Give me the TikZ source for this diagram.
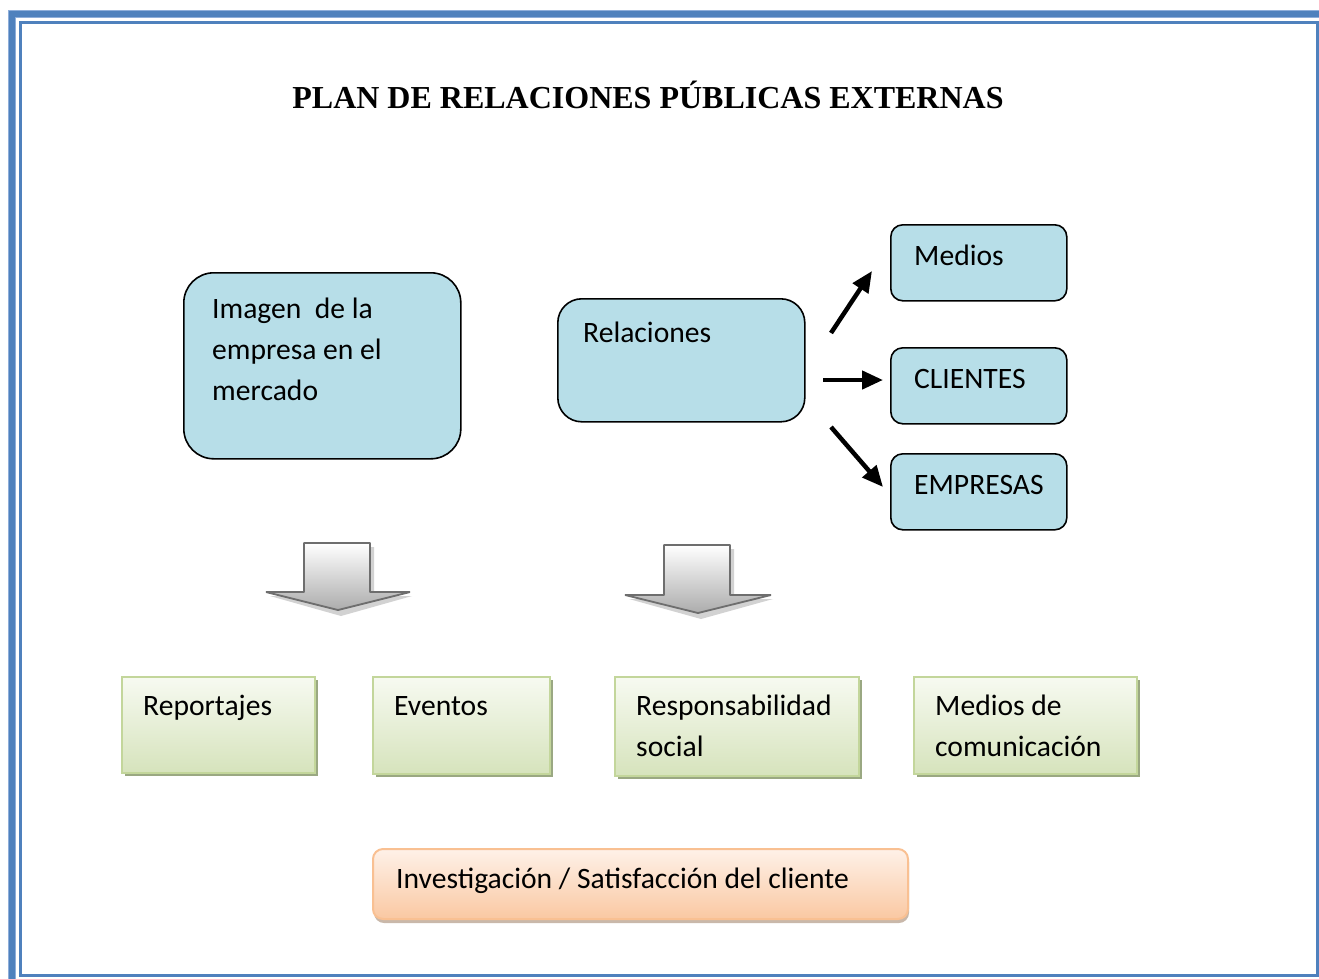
\documentclass[tikz,border=0pt]{standalone}
\usepackage{fontspec}
\setmainfont{Carlito}
\newfontfamily\titlefont{Liberation Serif}
\usetikzlibrary{arrows.meta}
\definecolor{frameblue}{HTML}{4F81BD}
\definecolor{framelight}{HTML}{8EAEDA}
\definecolor{boxblue}{HTML}{B7DEE8}
\definecolor{greenborder}{HTML}{C3D69B}
\definecolor{greentop}{HTML}{F7FAF1}
\definecolor{greenbot}{HTML}{D6E3BC}
\definecolor{greenshadow}{HTML}{9AA882}
\definecolor{orangeborder}{HTML}{F9C092}
\definecolor{orangetop}{HTML}{FEF1E8}
\definecolor{orangebot}{HTML}{FAC8A2}
\definecolor{orangeshadow}{HTML}{C9B8AA}
\definecolor{arrowline}{HTML}{6E6E6E}
\begin{document}
\begin{tikzpicture}[x=1pt,y=-1pt,
  bluebox/.style={draw=black, line width=1.6pt, fill=boxblue, anchor=north west, inner sep=0pt},
  greenbox/.style={draw=greenborder, line width=2pt, top color=greentop, bottom color=greenbot, anchor=north west, inner sep=0pt},
  orangebox/.style={draw=orangeborder, line width=2pt, top color=orangetop, bottom color=orangebot, anchor=north west, inner sep=0pt, rounded corners=10pt},
  txt/.style={anchor=base west, inner sep=0pt, align=left, font=\fontsize{29.6}{41}\selectfont},
  blk/.style={line width=4.5pt, -{Triangle[length=21pt,width=18pt]}},
  blockarrow/.style={draw=arrowline, line width=1.8pt, line join=bevel, top color=white, bottom color=gray!65},
  arrowshadow/.style={fill=gray!35}
]
\useasboundingbox (0,0) rectangle (1319,978);
\clip (0,0) rectangle (1319,978);
% frame
\draw[framelight, line width=8pt] (12,14) rectangle (1360,1020);
\draw[frameblue, line width=6pt] (12,14) rectangle (1360,1020);
\draw[frameblue, line width=3pt] (20.5,22.5) rectangle (1317.5,975);
% title
\node[inner sep=0pt, font=\titlefont\bfseries\fontsize{32}{38}\selectfont] (title) at (648,95) {PLAN DE RELACIONES PÚBLICAS EXTERNAS};
% blue boxes
\node[bluebox, minimum width=277pt, minimum height=186pt, rounded corners=30pt] (img) at (183,272) {};
\node[txt] (imgt) at (212,400) {Imagen\ \ de la\\empresa en el\\mercado};
\node[bluebox, minimum width=247pt, minimum height=123pt, rounded corners=24pt] (rel) at (557,298) {};
\node[txt] (relt) at (583,342) {Relaciones};
\node[bluebox, minimum width=176pt, minimum height=76pt, rounded corners=12pt] (med) at (890,224) {};
\node[txt] (medt) at (914,265) {Medios};
\node[bluebox, minimum width=176pt, minimum height=76pt, rounded corners=12pt] (cli) at (890,347) {};
\node[txt] (clit) at (914,388) {CLIENTES};
\node[bluebox, minimum width=176pt, minimum height=76pt, rounded corners=12pt] (emp) at (890,453) {};
\node[txt] (empt) at (914,494) {EMPRESAS};
% arrows
\coordinate (a1s) at (831,333); \coordinate (a1e) at (872,271);
\coordinate (a2s) at (823,380); \coordinate (a2e) at (883,380);
\coordinate (a3s) at (831,427); \coordinate (a3e) at (883,487);
\draw[blk] (a1s) -- (a1e);
\draw[blk] (a2s) -- (a2e);
\draw[blk] (a3s) -- (a3e);
% block arrows
\fill[arrowshadow] (308,547) -- (374,547) -- (374,596) -- (412,596) -- (341,616) -- (270,596) -- (308,596) -- cycle;
\path[blockarrow] (304,543) -- (370,543) -- (370,592) -- (410,592) -- (338,610) -- (266,592) -- (304,592) -- cycle;
\fill[arrowshadow] (668,549) -- (734,549) -- (734,599) -- (773,599) -- (701,619) -- (629,599) -- (668,599) -- cycle;
\path[blockarrow] (664,545) -- (730,545) -- (730,595) -- (771,595) -- (698,613) -- (625,595) -- (664,595) -- cycle;
% green boxes
\fill[greenshadow] (125,680) rectangle (318,776);
\node[greenbox, minimum width=193pt, minimum height=96pt] (rep) at (121,676) {};
\node[txt] (rept) at (143,715) {Reportajes};
\fill[greenshadow] (376,680) rectangle (553,777);
\node[greenbox, minimum width=177pt, minimum height=97pt] (eve) at (372,676) {};
\node[txt] (evet) at (394,715) {Eventos};
\fill[greenshadow] (618,680) rectangle (862,779);
\node[greenbox, minimum width=244pt, minimum height=99pt] (res) at (614,676) {};
\node[txt] (rest) at (636,756) {Responsabilidad\\social};
\fill[greenshadow] (917,680) rectangle (1140,777);
\node[greenbox, minimum width=223pt, minimum height=97pt] (mdc) at (913,676) {};
\node[txt] (mdct) at (935,756) {Medios de\\comunicación};
% orange box
\fill[orangeshadow, rounded corners=10pt] (374,852) rectangle (909,923);
\node[orangebox, minimum width=535pt, minimum height=70pt] (inv) at (372,848) {};
\node[txt] (invt) at (396,888) {Investigación / Satisfacción del cliente};
\end{tikzpicture}
\end{document}
